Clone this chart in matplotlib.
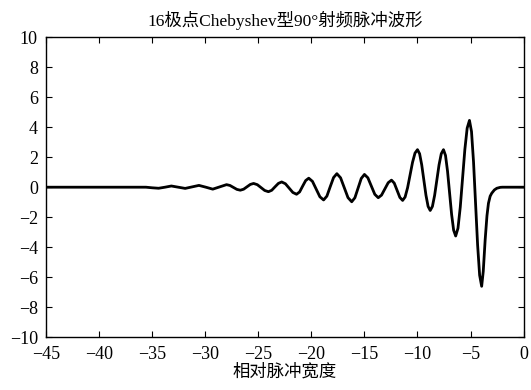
import numpy as np
from matplotlib import pyplot as plt

# values (relative pulse width, amplitude)
t_pts = [-45.0, -36.0, -35.6, -35.0, -34.4, -33.8, -33.2, -32.55, -31.9, -31.25,
         -30.6, -29.95, -29.3, -28.65, -28.0,
         -27.675, -27.35, -27.025, -26.7,
         -26.39, -26.075, -25.76, -25.45,
         -25.1, -24.75, -24.4, -24.05,
         -23.74, -23.43, -23.11, -22.8,
         -22.45, -22.1, -21.75, -21.4,
         -21.11, -20.83, -20.54, -20.25,
         -19.9, -19.55, -19.2, -18.85,
         -18.54, -18.23, -17.91, -17.6,
         -17.25, -16.9, -16.55, -16.2,
         -15.9, -15.6, -15.3, -15.0,
         -14.675, -14.35, -14.025, -13.7,
         -13.39, -13.075, -12.76, -12.45,
         -12.19, -11.925, -11.66, -11.4,
         -11.167, -10.933, -10.7, -10.467, -10.233, -10.0,
         -9.8, -9.6, -9.4, -9.2, -9.0, -8.8,
         -8.592, -8.383, -8.175, -7.967, -7.758, -7.55,
         -7.358, -7.167, -6.975, -6.783, -6.592, -6.4,
         -6.183, -5.967, -5.75, -5.533, -5.317, -5.1,
         -4.908, -4.717, -4.525, -4.333, -4.142, -3.95,
         -3.8, -3.62, -3.45, -3.31, -3.15, -3.0, -2.75, -2.52, -2.2, -2.0, 0.0]
v_pts = [0.0, 0.0, 0.0, -0.04, -0.07, 0.0, 0.08, 0.0, -0.08, 0.02,
         0.12, 0.0, -0.13, 0.02, 0.17,
         0.116, -0.015, -0.146, -0.2,
         -0.134, 0.025, 0.184, 0.25,
         0.169, -0.025, -0.219, -0.3,
         -0.205, 0.025, 0.255, 0.35,
         0.23, -0.06, -0.35, -0.47,
         -0.313, 0.065, 0.443, 0.6,
         0.388, -0.125, -0.638, -0.85,
         -0.594, 0.025, 0.644, 0.9,
         0.626, -0.035, -0.696, -0.97,
         -0.703, -0.06, 0.583, 0.85,
         0.623, 0.075, -0.473, -0.7,
         -0.529, -0.115, 0.299, 0.47,
         0.272, -0.205, -0.682, -0.88,
         -0.654, -0.035, 0.81, 1.655, 2.274, 2.5,
         2.229, 1.488, 0.475, -0.538, -1.279, -1.55,
         -1.279, -0.538, 0.475, 1.488, 2.229, 2.5,
         2.115, 1.063, -0.375, -1.813, -2.865, -3.25,
         -2.734, -1.325, 0.6, 2.525, 3.934, 4.45,
         3.71, 1.688, -1.075, -3.838, -5.86, -6.6,
         -5.6, -3.5, -1.9, -1.07, -0.6, -0.4, -0.18, -0.07, -0.01, 0.0, 0.0]

x_ticks = [-45, -40, -35, -30, -25, -20, -15, -10, -5, 0]
y_ticks = [-10, -8, -6, -4, -2, 0, 2, 4, 6, 8, 10]

plt.rcParams['font.family'] = ['Liberation Serif', 'Noto Sans CJK SC']
plt.rcParams['axes.unicode_minus'] = True

fig = plt.figure(figsize=(5.31, 3.9), dpi=100)
ax = fig.add_axes([0.087, 0.135, 0.899, 0.77])

ax.plot(t_pts, v_pts, color='k', linewidth=2.0)
ax.set_xlim(-45, 0)
ax.set_ylim(-10, 10)
ax.set_xticks(x_ticks)
ax.set_yticks(y_ticks)
ax.tick_params(axis='both', which='both', direction='in', top=True, right=True,
               labelsize=13, length=4, width=0.8)
ax.tick_params(axis='x', pad=6)
ax.tick_params(axis='y', pad=6)
for s in ax.spines.values():
    s.set_linewidth(1.0)

ax.set_title('16极点Chebyshev型90°射频脉冲波形', fontsize=12.5, pad=8)
ax.set_xlabel('相对脉冲宽度', fontsize=12.5, labelpad=1)

fig.savefig('out.png', dpi=100)
